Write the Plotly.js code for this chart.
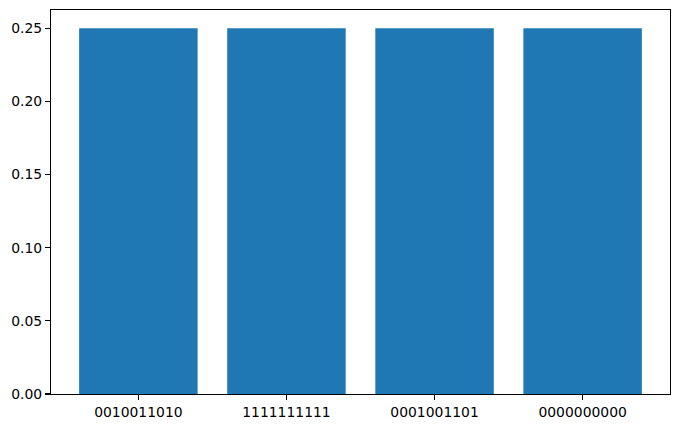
<!DOCTYPE html>
<html>
<head>
<meta charset="utf-8">
<script src="https://cdn.plot.ly/plotly-3.0.1.min.js"></script>
<style>html,body{margin:0;padding:0;background:#fff;}#chart{width:680px;height:428px;}</style>
</head>
<body>
<div id="chart"></div>
<script>
const categories = ["0010011010", "1111111111", "0001001101", "0000000000"];
const values = [0.25, 0.25, 0.25, 0.25];
const yTicks = [0, 0.05, 0.10, 0.15, 0.20, 0.25];

const trace = {
  type: 'bar',
  x: categories,
  y: values,
  marker: {color: '#1f77b4', line: {width: 0}},
  hoverinfo: 'none'
};

const axisCommon = {
  showline: true,
  linecolor: '#000',
  linewidth: 1.1,
  mirror: true,
  ticks: 'outside',
  ticklen: 4.9,
  tickwidth: 1.1,
  tickcolor: '#000',
  showgrid: false,
  zeroline: false,
  tickfont: {family: 'DejaVu Sans', size: 13.9, color: '#000'}
};

const layout = {
  width: 680,
  height: 428,
  margin: {l: 50.5, r: 9.5, t: 9.5, b: 34},
  paper_bgcolor: '#fff',
  plot_bgcolor: '#fff',
  showlegend: false,
  bargap: 0.2,
  xaxis: Object.assign({}, axisCommon, {
    type: 'category',
    range: [-0.59, 3.59]
  }),
  yaxis: Object.assign({}, axisCommon, {
    range: [0, 0.2625],
    tickmode: 'array',
    tickvals: yTicks,
    ticktext: yTicks.map(v => v.toFixed(2))
  })
};

Plotly.newPlot('chart', [trace], layout, {staticPlot: true, displayModeBar: false});
</script>
</body>
</html>
